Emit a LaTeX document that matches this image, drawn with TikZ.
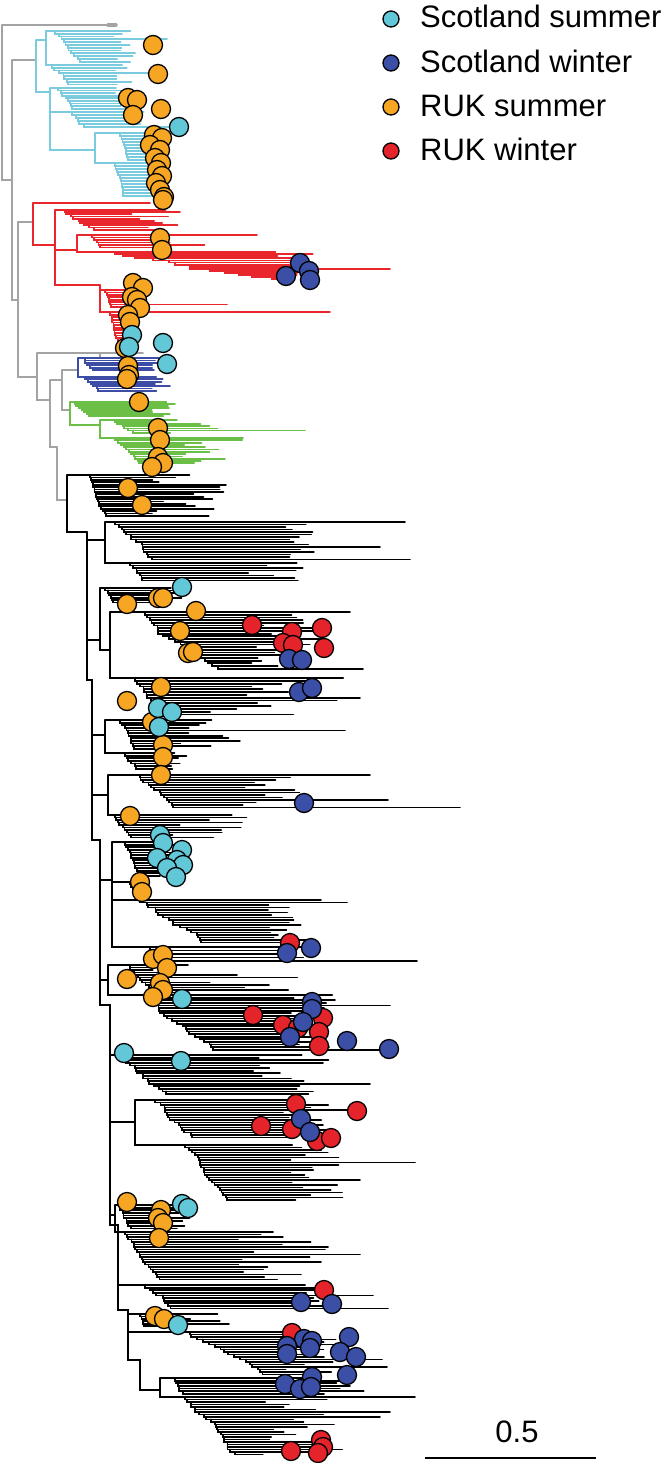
\documentclass[tikz,border=0pt]{standalone}
\usepackage{fontspec}
\setmainfont{Liberation Sans}
\usetikzlibrary{positioning}

\definecolor{ssumcol}{HTML}{62C8D8}
\definecolor{swincol}{HTML}{3A4FA5}
\definecolor{rsumcol}{HTML}{F6A623}
\definecolor{rwincol}{HTML}{E5232A}
\definecolor{cladecyan}{HTML}{7ACBDD}
\definecolor{cladered}{HTML}{E8262B}
\definecolor{cladeblue}{HTML}{3D4DA5}
\definecolor{cladegreen}{HTML}{6BBF47}
\definecolor{cladegray}{HTML}{A3A3A3}

\tikzset{
  br/.style   = {line width=1.8pt, line cap=round},
  kbr/.style  = {br, draw=black},
  cbr/.style  = {br, draw=cladecyan},
  rbr/.style  = {br, draw=cladered},
  bbr/.style  = {br, draw=cladeblue},
  gbr/.style  = {br, draw=cladegreen},
  ybr/.style  = {br, draw=cladegray},
  tipdot/.style  = {circle, draw=black, line width=1.3pt, minimum size=19pt, inner sep=0pt},
  scotsum/.style = {tipdot, fill=ssumcol},
  scotwin/.style = {tipdot, fill=swincol},
  uksum/.style   = {tipdot, fill=rsumcol},
  ukwin/.style   = {tipdot, fill=rwincol},
  legdot/.style  = {tipdot, minimum size=16pt},
  legtext/.style = {anchor=base west, inner sep=0pt, font=\fontsize{31}{36}\selectfont}
}

% seed, x0, y0, tips, gap, step, end min, end max, style
\newcommand{\TipComb}[9]{%
  \pgfmathsetseed{#1}%
  \xdef\curx{#2}%
  \foreach \k in {1,...,#4}{%
    \pgfmathsetmacro{\ys}{#3+(\k-1)*#5}%
    \pgfmathsetmacro{\xe}{max(\curx+4,#7+rnd*(#8-#7))}%
    \pgfmathsetmacro{\xn}{\curx+2*rnd*#6}%
    \draw[#9] (\curx,\ys) -- (\xe,\ys);%
    \ifnum\k<#4\relax
      \draw[#9] (\curx,\ys) |- (\xn,{\ys+#5});%
    \fi
    \xdef\curx{\xn}%
  }%
}

\begin{document}
\begin{tikzpicture}[x=1pt,y=-1pt]
  \useasboundingbox (0,0) rectangle (667,1463);

  % backbone
  \draw[ybr] (2,25) -- (112,25);
  \draw[ybr, line width=3.5pt] (108,25) -- (116,25);
  \draw[ybr] (2,25) -- (2,180) -- (12,180);
  \draw[ybr] (12,60) -- (12,300) -- (18,300);
  \draw[ybr] (12,60) -- (36,60);
  \draw[ybr] (18,222) -- (33,222);
  \draw[ybr] (18,222) -- (18,377) -- (37,377);
  \draw[ybr] (37,353) -- (37,400) -- (50,400);
  \draw[ybr] (37,353) -- (100,353) -- (143,353);
  \draw[ybr] (100,353) -- (100,358) -- (140,358);
  \draw[ybr] (50,380) -- (50,447) -- (57,447);
  \draw[ybr] (50,380) -- (62,380);
  \draw[ybr] (62,370) -- (62,410) -- (70,410);
  \draw[ybr] (62,370) -- (78,370);
  \draw[ybr] (57,447) -- (57,500) -- (67,500);

  % cyan clade
  \draw[cbr] (36,40) -- (36,92) -- (50,92);
  \draw[cbr] (36,40) -- (46,40);
  \draw[cbr] (46,31) -- (46,65) -- (52,65);
  \draw[cbr] (46,31) -- (55,31);
  \TipComb{11}{55}{31}{12}{2.8}{2}{112}{140}{cbr}
  \draw[cbr] (70,39.4) -- (167,39.4);
  \TipComb{12}{52}{65}{8}{2.8}{2.5}{115}{135}{cbr}
  \draw[cbr] (100,73.4) -- (150,73.4);
  \draw[cbr] (50,88) -- (50,150) -- (95,150);
  \draw[cbr] (50,88) -- (58,88);
  \TipComb{13}{58}{88}{9}{2.6}{3}{115}{135}{cbr}
  \draw[cbr] (50,112) -- (72,112);
  \TipComb{14}{72}{112}{6}{3}{3}{125}{150}{cbr}
  \draw[cbr] (100,127) -- (172,127);
  \draw[cbr] (95,133) -- (95,163) -- (115,163);
  \draw[cbr] (95,133) -- (120,133);
  \TipComb{15}{120}{133}{10}{3}{1}{148}{162}{cbr}
  \TipComb{16}{115}{163}{12}{3}{1}{148}{165}{cbr}

  % red clade
  \draw[rbr] (33,203) -- (33,245) -- (55,245);
  \draw[rbr] (33,203) -- (150,203);
  \draw[rbr] (55,210) -- (55,285) -- (100,285);
  \draw[rbr] (55,210) -- (65,210);
  \TipComb{21}{65}{210}{10}{2.2}{3}{125}{190}{rbr}
  \draw[rbr] (55,250) -- (77,250);
  \draw[rbr] (77,235) -- (77,252) -- (115,252);
  \draw[rbr] (77,235) -- (92,235);
  \TipComb{22}{92}{235}{6}{2.5}{4}{150}{205}{rbr}
  \draw[rbr] (150,235) -- (257,235);
  \TipComb{23}{115}{252}{14}{2.1}{10}{275}{315}{rbr}
  \draw[rbr] (275,268.8) -- (390,268.8);
  \draw[rbr] (100,285) -- (100,312) -- (110,312);
  \draw[rbr] (100,290) -- (105,290);
  \TipComb{24}{105}{290}{8}{2.4}{1}{125}{145}{rbr}
  \draw[rbr] (130,304.4) -- (227,304.4);
  \TipComb{25}{110}{312}{12}{2.6}{1}{118}{140}{rbr}
  \draw[rbr] (110,312) -- (330,312);

  % blue clade
  \draw[bbr] (78,358) -- (78,377) -- (85,377);
  \draw[bbr] (78,358) -- (85,358);
  \TipComb{31}{85}{358}{6}{2.4}{3}{150}{165}{bbr}
  \TipComb{32}{85}{377}{7}{2.3}{3}{150}{172}{bbr}

  % green clade
  \draw[gbr] (70,402) -- (70,425) -- (100,425);
  \draw[gbr] (70,402) -- (75,402);
  \TipComb{41}{75}{402}{8}{2}{2}{150}{180}{gbr}
  \draw[gbr] (100,420) -- (100,438) -- (115,438);
  \draw[gbr] (100,420) -- (115,420);
  \TipComb{42}{115}{420}{7}{2.1}{3}{160}{230}{gbr}
  \draw[gbr] (160,430.5) -- (305,430.5);
  \TipComb{43}{115}{438}{12}{2.3}{2}{140}{250}{gbr}

  % black clade
  \draw[kbr] (67,475) -- (67,532) -- (87,532);
  \draw[kbr] (67,475) -- (90,475);
  \TipComb{51}{90}{475}{18}{2.4}{1.2}{150}{228}{kbr}
  \draw[kbr] (87,532) -- (87,680) -- (92,680) -- (92,840) -- (100,840)
    -- (100,1005) -- (110,1005) -- (110,1225) -- (118,1225) -- (118,1310)
    -- (128,1310) -- (128,1360) -- (140,1360) -- (140,1390) -- (160,1390);

  \draw[kbr] (87,540) -- (105,540);
  \draw[kbr] (105,522) -- (105,563) -- (130,563);
  \draw[kbr] (105,522) -- (115,522);
  \TipComb{52}{115}{522}{16}{2.5}{3.5}{285}{322}{kbr}
  \draw[kbr] (285,522) -- (405,522);
  \draw[kbr] (285,547) -- (380,547);
  \draw[kbr] (285,559.5) -- (410,559.5);
  \TipComb{53}{130}{563}{8}{2.5}{2.5}{240}{303}{kbr}

  \draw[kbr] (87,640) -- (100,640);
  \draw[kbr] (100,588) -- (100,650) -- (110,650);
  \draw[kbr] (100,588) -- (105,588);
  \TipComb{54}{105}{588}{7}{2.4}{2}{150}{185}{kbr}
  \draw[kbr] (110,612) -- (110,678) -- (135,678);
  \draw[kbr] (110,612) -- (145,612);
  \TipComb{55}{145}{612}{22}{2.7}{3.3}{250}{330}{kbr}
  \draw[kbr] (250,612) -- (350,612);
  \draw[kbr] (250,668.7) -- (363,668.7);
  \TipComb{56}{135}{678}{14}{2.8}{2.5}{200}{345}{kbr}
  \draw[kbr] (200,697.6) -- (360,697.6);

  \draw[kbr] (92,735) -- (105,735);
  \draw[kbr] (105,720) -- (105,753) -- (125,753);
  \draw[kbr] (105,720) -- (120,720);
  \TipComb{57}{120}{720}{12}{2.6}{1.8}{150}{240}{kbr}
  \draw[kbr] (150,730.4) -- (345,730.4);
  \TipComb{58}{125}{753}{7}{2.6}{2}{165}{190}{kbr}

  \draw[kbr] (92,795) -- (108,795);
  \draw[kbr] (108,775) -- (108,815) -- (115,815);
  \draw[kbr] (108,775) -- (140,775);
  \TipComb{59}{140}{775}{14}{2.5}{4.5}{240}{310}{kbr}
  \draw[kbr] (240,775) -- (370,775);
  \draw[kbr] (240,800) -- (388,800);
  \draw[kbr] (240,807.5) -- (460,807.5);
  \TipComb{60}{115}{815}{10}{2.5}{2}{170}{250}{kbr}

  \draw[kbr] (100,880) -- (112,880);
  \draw[kbr] (112,842) -- (112,947) -- (150,947);
  \draw[kbr] (112,842) -- (125,842);
  \TipComb{61}{125}{842}{14}{2.6}{1.5}{150}{180}{kbr}
  \draw[kbr] (112,882) -- (130,882);
  \TipComb{62}{130}{882}{6}{2.5}{1}{140}{155}{kbr}
  \draw[kbr] (112,900) -- (140,900);
  \TipComb{63}{140}{900}{18}{2.5}{4}{265}{330}{kbr}
  \draw[kbr] (265,902.5) -- (347,902.5);
  \TipComb{64}{150}{947}{5}{3.5}{3}{290}{320}{kbr}
  \draw[kbr] (290,961) -- (417,961);

  \draw[kbr] (100,980) -- (108,980);
  \draw[kbr] (108,965) -- (108,995) -- (150,995);
  \draw[kbr] (108,965) -- (130,965);
  \TipComb{65}{130}{965}{12}{2.5}{2}{150}{300}{kbr}
  \TipComb{66}{150}{995}{22}{2.6}{3}{280}{335}{kbr}
  \draw[kbr] (280,1005.4) -- (390,1005.4);
  \draw[kbr] (280,1049.6) -- (380,1049.6);

  \draw[kbr] (110,1055) -- (120,1055);
  \TipComb{67}{120}{1055}{16}{2.6}{3}{250}{330}{kbr}
  \draw[kbr] (250,1083.6) -- (370,1083.6);

  \draw[kbr] (110,1122) -- (135,1122);
  \draw[kbr] (135,1100) -- (135,1145) -- (185,1145);
  \draw[kbr] (135,1100) -- (155,1100);
  \TipComb{68}{155}{1100}{16}{2.5}{3.5}{280}{330}{kbr}
  \draw[kbr] (280,1110) -- (350,1110);
  \TipComb{69}{185}{1145}{23}{2.5}{2}{290}{345}{kbr}
  \draw[kbr] (290,1162.5) -- (415,1162.5);
  \draw[kbr] (290,1180) -- (360,1180);

  \draw[kbr] (110,1215) -- (115,1215);
  \draw[kbr] (115,1205) -- (115,1232) -- (125,1232);
  \draw[kbr] (115,1205) -- (120,1205);
  \TipComb{70}{120}{1205}{10}{2.6}{1.5}{165}{200}{kbr}
  \TipComb{71}{125}{1232}{20}{2.5}{2}{230}{330}{kbr}
  \draw[kbr] (170,1232) -- (256,1232);
  \draw[kbr] (230,1254.5) -- (360,1254.5);

  \draw[kbr] (118,1285) -- (145,1285);
  \TipComb{72}{145}{1285}{10}{2.6}{4}{300}{340}{kbr}
  \draw[kbr] (300,1295.4) -- (373,1295.4);
  \draw[kbr] (300,1308.4) -- (388,1308.4);
  \draw[kbr] (128,1314) -- (140,1314);
  \TipComb{73}{140}{1314}{6}{2.4}{1}{150}{232}{kbr}
  \draw[kbr] (128,1332) -- (190,1332);
  \TipComb{74}{190}{1332}{18}{2.5}{3.5}{280}{340}{kbr}
  \draw[kbr] (280,1359.5) -- (382,1359.5);
  \draw[kbr] (280,1367) -- (387,1367);

  \draw[kbr] (160,1378) -- (160,1397) -- (185,1397);
  \draw[kbr] (160,1378) -- (175,1378);
  \TipComb{75}{175}{1378}{7}{2.6}{2}{300}{380}{kbr}
  \TipComb{76}{185}{1397}{24}{2.5}{2.7}{260}{350}{kbr}
  \draw[kbr] (260,1397) -- (415,1397);
  \draw[kbr] (260,1412) -- (390,1412);
  \draw[kbr] (260,1417) -- (380,1417);

  % tip states
  \foreach \x/\y [count=\n] in {153/45, 158/74, 128/98, 137/100, 133/115, 161/109,
      154/135, 162/138, 150/145, 160/150, 155/158, 161/163, 157/170, 162/176,
      156/183, 160/190, 164/197, 163/200, 160/238, 162/250, 133/283, 143/288,
      132/297, 137/300, 140/308, 128/315, 130/322, 125/348, 128/366, 129/375,
      127/379, 139/402, 158/428, 160/440, 158/457, 163/463, 152/467,
      128/488, 142/505, 127/604, 158/598, 163/598, 196/611, 180/631, 188/653,
      193/652, 161/687, 127/701, 152/722, 163/745, 163/757, 161/775, 130/816,
      140/882, 142/892, 153/959, 163/955, 167/968, 127/979, 160/983, 163/990,
      153/997, 127/1202, 161/1210, 158/1218, 163/1223, 159/1238, 155/1316, 164/1319}
    \node[uksum] (uks\n) at (\x,\y) {};
  \foreach \x/\y [count=\n] in {179/127, 132/335, 163/343, 129/347, 167/364,
      182/587, 158/708, 172/712, 159/727, 160/835, 163/843, 182/850, 157/858,
      177/860, 183/865, 167/868, 176/877, 182/999, 124/1053, 181/1061,
      182/1204, 188/1208, 178/1325}
    \node[scotsum] (scs\n) at (\x,\y) {};
  \foreach \x/\y [count=\n] in {252/625, 292/632, 322/628, 283/643, 293/645,
      324/648, 290/943, 253/1015, 283/1025, 298/1028, 323/1018, 319/1032,
      319/1046, 296/1104, 357/1111, 261/1126, 292/1129, 317/1141, 331/1138,
      324/1290, 292/1333, 321/1440, 323/1447, 318/1453, 291/1451}
    \node[ukwin] (ukw\n) at (\x,\y) {};
  \foreach \x/\y [count=\n] in {300/263, 286/276, 309/271, 310/280, 289/659,
      302/660, 299/692, 312/688, 304/803, 287/953, 311/948, 312/1002, 312/1009,
      303/1022, 290/1037, 347/1041, 389/1049, 301/1119, 310/1132, 301/1302,
      332/1304, 304/1339, 312/1341, 287/1346, 310/1348, 349/1337, 340/1352,
      356/1357, 287/1354, 347/1375, 312/1377, 285/1384, 300/1389, 311/1387}
    \node[scotwin] (scw\n) at (\x,\y) {};

  % legend
  \node[legdot, fill=ssumcol] (legss) at (391,19) {};
  \node[legdot, fill=swincol] (legsw) at (391,63) {};
  \node[legdot, fill=rsumcol] (legrs) at (391,107) {};
  \node[legdot, fill=rwincol] (legrw) at (391,151) {};
  \node[legtext] (txtss) at (420,28) {Scotland summer};
  \node[legtext] (txtsw) at (420,73) {Scotland winter};
  \node[legtext] (txtrs) at (420,117) {RUK summer};
  \node[legtext] (txtrw) at (420,161) {RUK winter};

  % scale bar
  \coordinate (barl) at (425,1458);
  \coordinate (barr) at (596,1458);
  \draw[line width=1.8pt] (barl) -- (barr);
  \node[legtext, anchor=base] (barlab) at (517,1442) {0.5};
\end{tikzpicture}
\end{document}
